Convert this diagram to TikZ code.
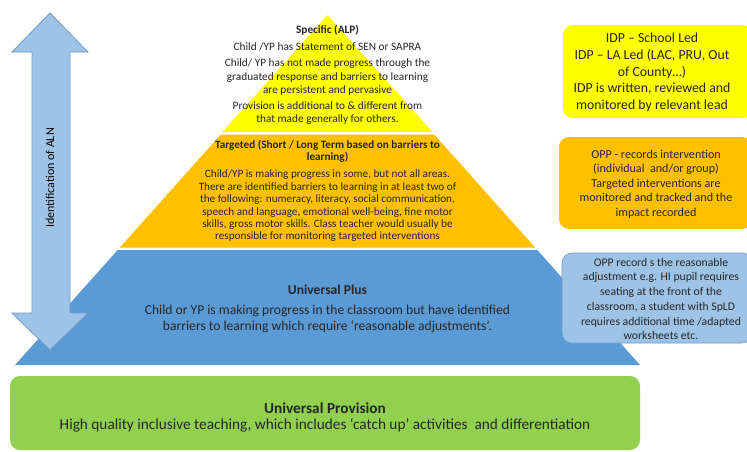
\documentclass[tikz,border=0pt]{standalone}
\usepackage{fontspec}
\setmainfont{Carlito}
\definecolor{pyYellow}{HTML}{FFFF00}
\definecolor{pyOrange}{HTML}{FFC000}
\definecolor{pyBlue}{HTML}{5B9BD5}
\definecolor{pyGreen}{HTML}{92D050}
\definecolor{ltBlue}{HTML}{9DC3E6}
\definecolor{edgeBlue}{HTML}{6F9BCB}
\definecolor{txtGray}{HTML}{262626}
\begin{document}
\begin{tikzpicture}[x=1pt,y=-1pt,
  layer/.style={draw=white,line width=1pt},
  ptext/.style={align=center,inner sep=0pt,text=txtGray},
  sidebox/.style={rounded corners=9pt,align=center,inner sep=0pt,text=txtGray}]
\useasboundingbox (0,0) rectangle (747,451);
\fill[white] (0,0) rectangle (747,451);
% pyramid layers
\fill[pyYellow] (327.5,15) -- (432.5,132) -- (222.5,132) -- cycle;
\fill[pyOrange] (220.8,134.5) -- (434.2,134.5) -- (535.1,247.5) -- (119.9,247.5) -- cycle;
\fill[pyBlue] (117.7,250) -- (537.3,250) -- (640,365) -- (15,365) -- cycle;
% green base
\fill[pyGreen,rounded corners=10pt] (10,376) rectangle (640,450);
% double arrow
\draw[fill=ltBlue,draw=edgeBlue,line width=0.8pt]
  (50,13) -- (88,52) -- (70,52) -- (70,313) -- (88,313) -- (50,350)
  -- (12,313) -- (32,313) -- (32,52) -- (12,52) -- cycle;
\node[rotate=90,font=\fontsize{12}{14}\selectfont,inner sep=0pt] (aln) at (50,178) {Identification of ALN};
% yellow layer text
\node[ptext,font=\fontsize{11.3}{12}\selectfont\bfseries] (spec) at (327.5,30) {Specific (ALP)};
\node[ptext,font=\fontsize{11.3}{12}\selectfont] (spec1) at (327.5,47) {Child /YP has Statement of SEN or SAPRA};
\node[ptext,font=\fontsize{11.3}{13.5}\selectfont] (spec2) at (327.5,77) {Child/ YP has not made progress through the\\graduated response and barriers to learning\\are persistent and pervasive};
\node[ptext,font=\fontsize{11.3}{12.5}\selectfont] (spec3) at (327.5,113) {Provision is additional to \& different from\\that made generally for others.};
% orange layer text
\node[ptext,font=\fontsize{11.2}{12}\selectfont\bfseries] (targ) at (327.5,151) {Targeted (Short / Long Term based on barriers to\\learning)};
\node[ptext,font=\fontsize{11.2}{12.4}\selectfont] (targ1) at (327.5,206) {Child/YP is making progress in some, but not all areas.\\There are identified barriers to learning in at least two of\\the following: numeracy, literacy, social communication,\\speech and language, emotional well-being, fine motor\\skills, gross motor skills. Class teacher would usually be\\responsible for monitoring targeted interventions};
% blue layer text
\node[ptext,font=\fontsize{13.6}{15}\selectfont\bfseries] (uplus) at (327.5,290) {Universal Plus};
\node[ptext,font=\fontsize{13.6}{16}\selectfont] (uplus1) at (327.5,319) {Child or YP is making progress in the classroom but have identified\\barriers to learning which require ‘reasonable adjustments’.};
% green text
\node[ptext,font=\fontsize{15.3}{17}\selectfont\bfseries] (uprov) at (325,408) {Universal Provision};
\node[ptext,font=\fontsize{15.3}{17}\selectfont] (uprov1) at (325,425) {High quality inclusive teaching, which includes ‘catch up’ activities\ \ and differentiation};
% side boxes
\fill[pyYellow,rounded corners=10pt] (563,25) rectangle (752,118);
\node[sidebox,font=\fontsize{13.8}{16.8}\selectfont] (idp) at (652,72.5) {IDP – School Led\\IDP – LA Led (LAC, PRU, Out\\of County…)\\IDP is written, reviewed and\\monitored by relevant lead};
\fill[pyOrange,rounded corners=10pt] (559,137) rectangle (752,229);
\node[sidebox,font=\fontsize{12.1}{14.5}\selectfont] (opp1) at (656,184) {OPP - records intervention\\(individual\ \ and/or group)\\Targeted interventions are\\monitored and tracked and the\\impact recorded};
\draw[fill=ltBlue,draw=edgeBlue,line width=0.6pt,rounded corners=10pt] (562,253) rectangle (752,343);
\node[sidebox,font=\fontsize{11.7}{14.7}\selectfont] (opp2) at (661,299) {OPP record s the reasonable\\adjustment e.g. HI pupil requires\\seating at the front of the\\classroom, a student with SpLD\\requires additional time /adapted\\worksheets etc.};
\end{tikzpicture}
\end{document}
